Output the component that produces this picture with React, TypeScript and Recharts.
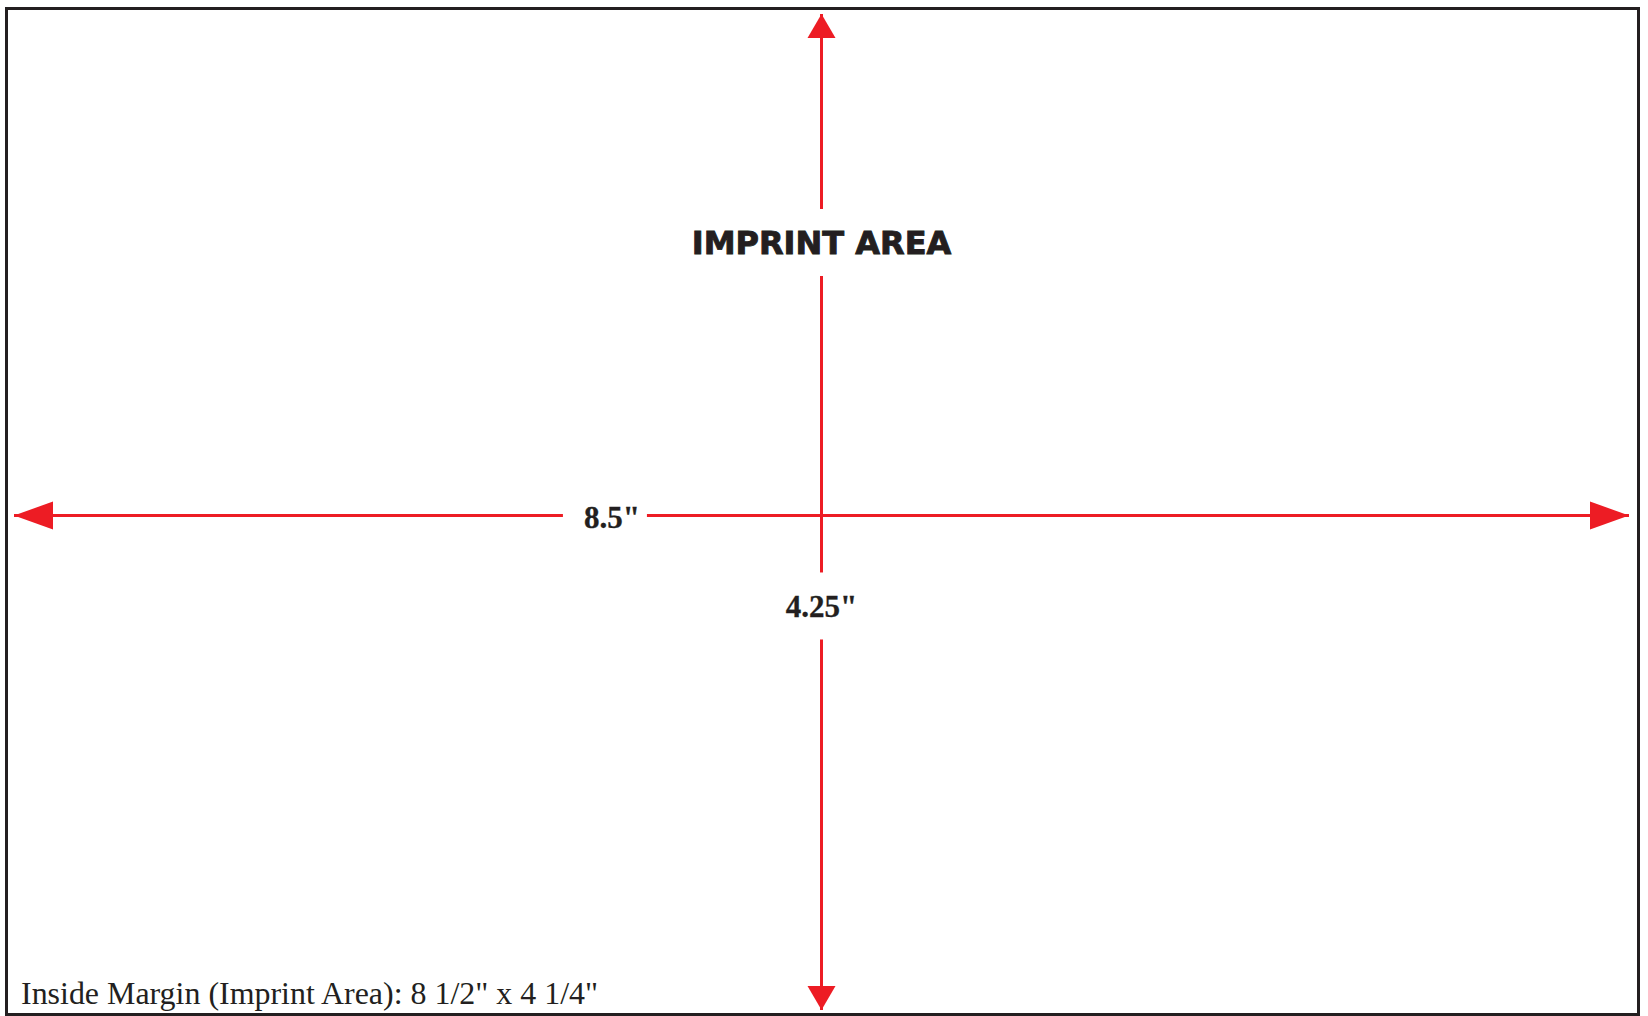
import { ScatterChart, Scatter, XAxis, YAxis, ReferenceLine, Customized } from "recharts"

// sheet dimensions in inches (width, height)
const sheetSize = [8.5, 4.25]
// where the two dimension lines sit
const hLineY = 2.11
const vLineX = 4.25

// arrow tips, in inches
const arrowX = [0, 8.5, 4.25, 4.25]
const arrowY = [2.11, 2.11, 4.25, 0]
const arrowDir = ["left", "right", "up", "down"]

// labels along the dimension lines
const labelText = ["IMPRINT AREA", '8.5"', '4.25"']
const labelX = [4.25, 3.147, 4.25]
const labelY = [3.275, 2.105, 1.724]

const footnote = 'Inside Margin (Imprint Area): 8 1/2" x 4 1/4"'

const RED = "#ed1c24"
const INK = "#231f20"

const arrows = arrowX.map((x, i) => ({ x, y: arrowY[i], dir: arrowDir[i] }))
const labels = labelText.map((text, i) => ({ x: labelX[i], y: labelY[i], text, idx: i }))

function ArrowHead(props: any) {
  const { cx, cy, payload } = props
  let pts = ""
  if (payload.dir === "left") pts = `${cx},${cy} ${cx + 39},${cy - 14} ${cx + 39},${cy + 14}`
  if (payload.dir === "right") pts = `${cx},${cy} ${cx - 39},${cy - 14} ${cx - 39},${cy + 14}`
  if (payload.dir === "up") pts = `${cx},${cy} ${cx - 14},${cy + 24} ${cx + 14},${cy + 24}`
  if (payload.dir === "down") pts = `${cx},${cy} ${cx - 14},${cy - 24} ${cx + 14},${cy - 24}`
  return <polygon points={pts} fill={RED} />
}

function DimLabel(props: any) {
  const { cx, cy, payload } = props
  const title = payload.idx === 0
  const fontSize = title ? 32 : 31
  const w = payload.text.length * fontSize * 0.5 + 22
  return (
    <g>
      <rect x={cx - w / 2 - 7} y={cy - 33.5} width={w} height={67} fill="#fff" />
      <text
        x={cx}
        y={cy + fontSize * 0.36}
        textAnchor="middle"
        fill={INK}
        stroke={INK}
        strokeWidth={title ? 0.9 : 0.3}
        fontSize={fontSize}
        fontWeight="bold"
        fontFamily={title ? "'DejaVu Sans', sans-serif" : "'Liberation Serif', serif"}
      >
        {payload.text}
      </text>
    </g>
  )
}

function Footnote() {
  return (
    <text
      x={21}
      y={1004}
      fill={INK}
      fontSize={32}
      fontFamily="'Liberation Serif', serif"
      textLength={577}
      lengthAdjust="spacingAndGlyphs"
    >
      {footnote}
    </text>
  )
}

export default function App() {
  return (
    <div style={{ position: "absolute", left: 0, top: 0, width: 1648, height: 1016, background: "#fff" }}>
      <div
        style={{
          position: "absolute",
          left: 5,
          top: 7,
          width: 1635,
          height: 1009,
          border: `3px solid ${INK}`,
          boxSizing: "border-box",
        }}
      />
      <div style={{ position: "absolute", left: 0, top: 0 }}>
        <ScatterChart width={1648} height={1016} margin={{ top: 14, right: 19, bottom: 6, left: 14 }}>
          <XAxis type="number" dataKey="x" domain={[0, sheetSize[0]]} allowDataOverflow hide />
          <YAxis type="number" dataKey="y" domain={[0, sheetSize[1]]} allowDataOverflow hide />
          <ReferenceLine y={hLineY} stroke={RED} strokeWidth={3} />
          <ReferenceLine x={vLineX} stroke={RED} strokeWidth={3} />
          <Scatter data={arrows} shape={ArrowHead} isAnimationActive={false} />
          <Scatter data={labels} shape={DimLabel} isAnimationActive={false} />
          <Customized component={Footnote} />
        </ScatterChart>
      </div>
    </div>
  )
}
